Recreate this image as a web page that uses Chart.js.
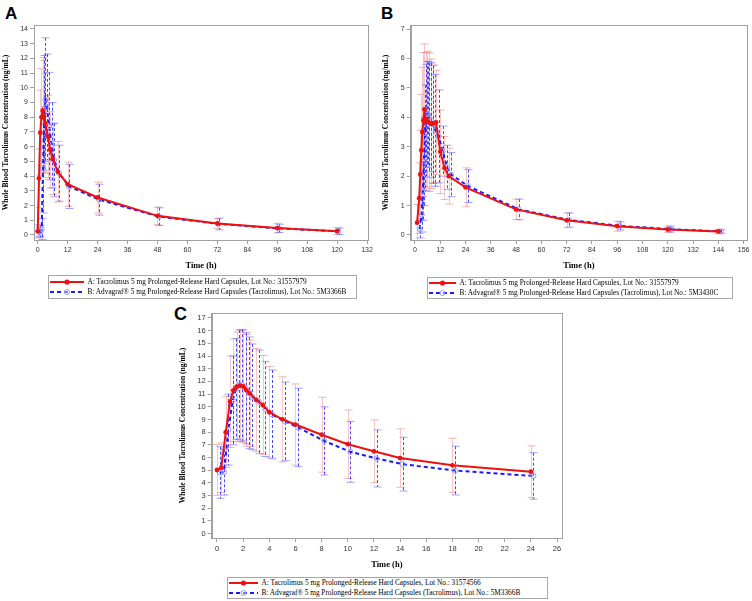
<!DOCTYPE html>
<html>
<head>
<meta charset="utf-8">
<script src="https://cdn.jsdelivr.net/npm/chart.js@4.4.0/dist/chart.umd.min.js"></script>
<style>
body{margin:0;background:#fff;width:752px;height:601px;position:relative;overflow:hidden}
canvas{position:absolute}
.letter{position:absolute;font:bold 17px "Liberation Sans",Arial,sans-serif;line-height:17px;color:#000}
.legend{position:absolute;border:1px solid #a8a8a8;box-sizing:border-box;font:7.3px "Liberation Serif","Times New Roman",serif;color:#000}
.legend .row{position:absolute;height:10px;line-height:10px;white-space:nowrap}
.legend svg{position:absolute;top:0}
</style>
</head>
<body>
<div class="letter" style="left:5px;top:5px">A</div>
<div class="letter" style="left:381px;top:5px">B</div>
<div class="letter" style="left:174px;top:306px;font-size:18px">C</div>
<canvas id="chartA" width="376" height="273" style="left:0;top:0"></canvas>
<canvas id="chartB" width="376" height="273" style="left:376px;top:0"></canvas>
<canvas id="chartC" width="420" height="282" style="left:160px;top:290px"></canvas>
<div id="legA" class="legend" style="left:48px;top:275px;width:309px;height:24px"></div>
<div id="legB" class="legend" style="left:427px;top:277px;width:306px;height:22px"></div>
<div id="legC" class="legend" style="left:227px;top:577px;width:321px;height:22px"></div>
<script>
// Panel A
const timesA = [0, 0.5, 1, 1.5, 2, 2.5, 3, 4, 5, 6, 8, 12, 24, 48, 72, 96, 120];
const testA = [0.25, 3.85, 6.95, 8.0, 8.45, 8.05, 7.6, 6.7, 5.8, 5.15, 4.3, 3.45, 2.55, 1.3, 0.78, 0.47, 0.26];
const testSdA = [0.45, 2.0, 2.9, 3.3, 3.6, 3.8, 3.4, 2.8, 2.6, 2.4, 2.05, 1.5, 1.05, 0.6, 0.33, 0.32, 0.24];
const refA = [0.22, 0.25, 0.4, 4.5, 8.3, 9.2, 8.7, 7.4, 6.1, 5.1, 4.2, 3.3, 2.4, 1.25, 0.75, 0.45, 0.25];
const refSdA = [0.3, 0.4, 0.7, 3.0, 3.9, 4.2, 3.6, 3.65, 2.9, 2.5, 1.9, 1.5, 1.05, 0.6, 0.4, 0.28, 0.22];
const xTicksA = [0, 12, 24, 36, 48, 60, 72, 84, 96, 108, 120, 132];
const yTicksA = [0, 1, 2, 3, 4, 5, 6, 7, 8, 9, 10, 11, 12, 13, 14];

// Panel B
const timesB = [1, 2, 2.5, 3, 3.5, 4, 4.5, 5, 5.5, 6.5, 7.5, 8.5, 10, 12, 14, 16, 24, 48, 72, 96, 120, 144];
const testB = [0.42, 1.25, 2.06, 2.88, 3.5, 3.9, 4.27, 3.85, 3.94, 3.83, 3.78, 3.78, 3.83, 2.83, 2.28, 2.0, 1.62, 0.87, 0.5, 0.3, 0.19, 0.12];
const testSdB = [0.62, 1.2, 1.5, 1.9, 2.2, 2.3, 2.22, 2.35, 2.3, 2.35, 2.2, 2.0, 1.77, 1.42, 1.07, 0.95, 0.66, 0.35, 0.25, 0.17, 0.11, 0.08];
const refB = [0.2, 0.7, 1.5, 2.5, 3.3, 3.9, 4.15, 4.1, 4.0, 3.9, 3.75, 3.55, 3.35, 2.85, 2.3, 2.05, 1.66, 0.87, 0.51, 0.31, 0.2, 0.12];
const refSdB = [0.3, 0.6, 1.0, 1.5, 1.8, 1.9, 1.75, 1.8, 1.85, 1.95, 2.0, 1.9, 1.58, 0.85, 0.75, 0.75, 0.56, 0.35, 0.24, 0.14, 0.1, 0.06];
const xTicksB = [0, 12, 24, 36, 48, 60, 72, 84, 96, 108, 120, 132, 144, 156];
const yTicksB = [0, 1, 2, 3, 4, 5, 6, 7];

// Panel C
const timesC = [0, 0.33, 0.67, 1, 1.25, 1.5, 1.75, 2, 2.25, 2.5, 3, 3.5, 4, 5, 6, 8, 10, 12, 14, 18, 24];
const testC = [5.02, 5.2, 8.0, 10.4, 11.3, 11.58, 11.66, 11.6, 11.3, 11.06, 10.54, 10.14, 9.57, 9.01, 8.6, 7.8, 7.05, 6.49, 5.96, 5.39, 4.89];
const testSdC = [2.0, 1.95, 2.8, 3.6, 4.05, 4.3, 4.4, 4.4, 4.4, 4.2, 4.05, 3.9, 3.6, 3.35, 3.2, 2.95, 2.7, 2.47, 2.3, 2.13, 2.03];
const refC = [4.82, 4.85, 8.2, 10.5, 11.4, 11.75, 11.7, 11.46, 11.1, 10.78, 10.4, 9.83, 9.4, 8.85, 8.37, 7.31, 6.45, 5.93, 5.48, 4.97, 4.55];
const refSdC = [2.03, 1.8, 2.8, 3.5, 3.97, 4.3, 4.4, 4.38, 4.4, 4.17, 4.07, 3.75, 3.5, 3.1, 3.09, 2.69, 2.4, 2.25, 2.12, 1.92, 1.83];
const xTicksC = [0, 2, 4, 6, 8, 10, 12, 14, 16, 18, 20, 22, 24, 26];
const yTicksC = [0, 1, 2, 3, 4, 5, 6, 7, 8, 9, 10, 11, 12, 13, 14, 15, 16, 17];

const RED = '#ee1111', BLUE = '#1a1aff', AXIS = '#a0a0a0';
const yTitle = 'Whole Blood Tacrolimus Concentration (ng/mL)';

// error bars (mean +/- SD), drawn under the lines
const errorBars = {
  id: 'errorBars',
  beforeDatasetsDraw(chart) {
    const {ctx, chartArea, scales: {x, y}} = chart;
    ctx.save();
    ctx.beginPath();
    ctx.rect(chartArea.left, chartArea.top, chartArea.right - chartArea.left, chartArea.bottom - chartArea.top);
    ctx.clip();
    ctx.lineWidth = 1;
    chart.data.datasets.forEach(ds => {
      ds.data.forEach((p, i) => {
        const px = Math.round(x.getPixelForValue(p.x)) + 0.5;
        const top = y.getPixelForValue(p.y + ds.sd[i]);
        const bot = y.getPixelForValue(p.y - ds.sd[i]);
        ctx.strokeStyle = ds.barColor;
        ctx.setLineDash(ds.barDash);
        ctx.beginPath(); ctx.moveTo(px, top); ctx.lineTo(px, bot); ctx.stroke();
        ctx.setLineDash([]);
        ctx.strokeStyle = ds.capColor;
        ctx.beginPath();
        ctx.moveTo(px - 4, top); ctx.lineTo(px + 4, top);
        ctx.moveTo(px - 4, bot); ctx.lineTo(px + 4, bot);
        ctx.stroke();
      });
    });
    ctx.restore();
    // frame top/right
    ctx.save();
    ctx.strokeStyle = AXIS; ctx.lineWidth = 1;
    ctx.strokeRect(Math.round(chartArea.left) + 0.5, Math.round(chartArea.top) + 0.5,
      Math.round(chartArea.right - chartArea.left), Math.round(chartArea.bottom - chartArea.top));
    ctx.restore();
  }
};

function makeChart(id, p) {
  const pts = (t, v, dx) => t.map((tt, i) => ({x: tt + dx, y: v[i]}));
  return new Chart(document.getElementById(id), {
    type: 'scatter',
    data: {
      datasets: [{
        data: pts(p.times, p.test, 0), sd: p.testSd,
        barColor: 'rgba(245,160,160,0.6)', capColor: 'rgba(245,150,150,0.75)', barDash: [],
        showLine: true, borderColor: RED, borderWidth: 2,
        pointRadius: 2.4, pointBackgroundColor: RED, pointBorderColor: RED, pointBorderWidth: 0
      }, {
        data: pts(p.times, p.ref, p.shift), sd: p.refSd,
        barColor: 'rgba(40,40,255,0.85)', capColor: 'rgba(120,120,255,0.7)', barDash: [3, 2],
        showLine: true, borderColor: BLUE, borderWidth: 2, borderDash: [4, 3],
        pointRadius: 2.5, pointBackgroundColor: 'rgba(255,255,255,0)', pointBorderColor: '#9a9aff', pointBorderWidth: 1
      }]
    },
    options: {
      responsive: false, animation: false, devicePixelRatio: 1,
      layout: {padding: p.pad},
      plugins: {legend: {display: false}, tooltip: {enabled: false}},
      scales: {
        x: {
          type: 'linear', min: p.xMin, max: p.xMax,
          afterBuildTicks: s => { s.ticks = p.xTicks.map(v => ({value: v})); },
          afterFit: s => { s.height = p.xH; },
          grid: {drawOnChartArea: false, drawTicks: true, tickLength: 4, color: AXIS},
          border: {color: AXIS},
          ticks: {font: {family: 'Liberation Sans', size: p.tickSize}, color: '#333', padding: 2, maxRotation: 0, autoSkip: false},
          title: {display: true, text: 'Time (h)', color: '#000', font: {family: 'Liberation Serif', weight: 'bold', size: 8.5}, padding: {top: 0, bottom: 2}}
        },
        y: {
          type: 'linear', min: p.yMin, max: p.yMax,
          afterBuildTicks: s => { s.ticks = p.yTicks.map(v => ({value: v})); },
          afterFit: s => { s.width = p.yW; },
          grid: {drawOnChartArea: false, drawTicks: true, tickLength: 4, color: AXIS},
          border: {color: AXIS},
          ticks: {font: {family: 'Liberation Sans', size: p.tickSize}, color: '#333', padding: 2, autoSkip: false},
          title: {display: true, text: yTitle, color: '#000', font: {family: 'Liberation Serif', weight: 'bold', size: 7.5}, padding: {top: 1.5, bottom: 0}}
        }
      }
    },
    plugins: [errorBars]
  });
}

makeChart('chartA', {times: timesA, test: testA, testSd: testSdA, ref: refA, refSd: refSdA, shift: 0.6,
  xTicks: xTicksA, yTicks: yTicksA, xMin: -1.5, xMax: 132.4, yMin: -0.34, yMax: 14.27,
  pad: {left: 0, top: 25, right: 8, bottom: 0}, yW: 34, xH: 33, tickSize: 7});
makeChart('chartB', {times: timesB, test: testB, testSd: testSdB, ref: refB, refSd: refSdB, shift: 1.2,
  xTicks: xTicksB, yTicks: yTicksB, xMin: -2.04, xMax: 157.6, yMin: -0.17, yMax: 7.136,
  pad: {left: 4, top: 25, right: 5, bottom: 0}, yW: 30.7, xH: 33, tickSize: 7});
makeChart('chartC', {times: timesC, test: testC, testSd: testSdC, ref: refC, refSd: refSdC, shift: 0.2,
  xTicks: xTicksC, yTicks: yTicksC, xMin: -0.405, xMax: 26.38, yMin: -0.34, yMax: 17.39,
  pad: {left: 17, top: 23, right: 18, bottom: 0}, yW: 34.7, xH: 34, tickSize: 7.5});

// legends
function sample(w, dashed) {
  const c = dashed ? BLUE : RED, m = w / 2;
  const line = `<line x1="0" y1="5" x2="${w}" y2="5" stroke="${c}" stroke-width="2"${dashed ? ' stroke-dasharray="4 3"' : ''}/>`;
  const dot = dashed
    ? `<circle cx="${m}" cy="5" r="2.5" fill="#fff" fill-opacity="0.4" stroke="#9a9aff" stroke-width="1"/>`
    : `<circle cx="${m}" cy="5" r="2.6" fill="${RED}"/>`;
  return `<svg width="${w}" height="10" style="left:0">${line}${dot}</svg>`;
}
function legend(id, rows, sx, sw, tx) {
  const el = document.getElementById(id);
  rows.forEach(r => {
    const d = document.createElement('div');
    d.className = 'row';
    d.style.left = sx + 'px';
    d.style.top = (r.y - 5) + 'px';
    d.innerHTML = sample(sw, r.dashed) + `<span style="position:absolute;left:${tx - sx}px">${r.text}</span>`;
    el.appendChild(d);
  });
}
legend('legA', [
  {y: 5.7, text: 'A: Tacrolimus 5 mg Prolonged-Release Hard Capsules, Lot No.: 31557979', dashed: false},
  {y: 16.3, text: 'B: Advagraf® 5 mg Prolonged-Release Hard Capsules (Tacrolimus), Lot No.: 5M3366B', dashed: true}
], 0.5, 34, 38.5);
legend('legB', [
  {y: 4.7, text: 'A: Tacrolimus 5 mg Prolonged-Release Hard Capsules, Lot No.: 31557979', dashed: false},
  {y: 14.7, text: 'B: Advagraf® 5 mg Prolonged-Release Hard Capsules (Tacrolimus), Lot No.: 5M3430C', dashed: true}
], 0.5, 27, 31.5);
legend('legC', [
  {y: 4.7, text: 'A: Tacrolimus 5 mg Prolonged-Release Hard Capsules, Lot No.: 31574566', dashed: false},
  {y: 14.7, text: 'B: Advagraf® 5 mg Prolonged-Release Hard Capsules (Tacrolimus), Lot No.: 5M3366B', dashed: true}
], 0.5, 29, 33.5);
</script>
</body>
</html>
